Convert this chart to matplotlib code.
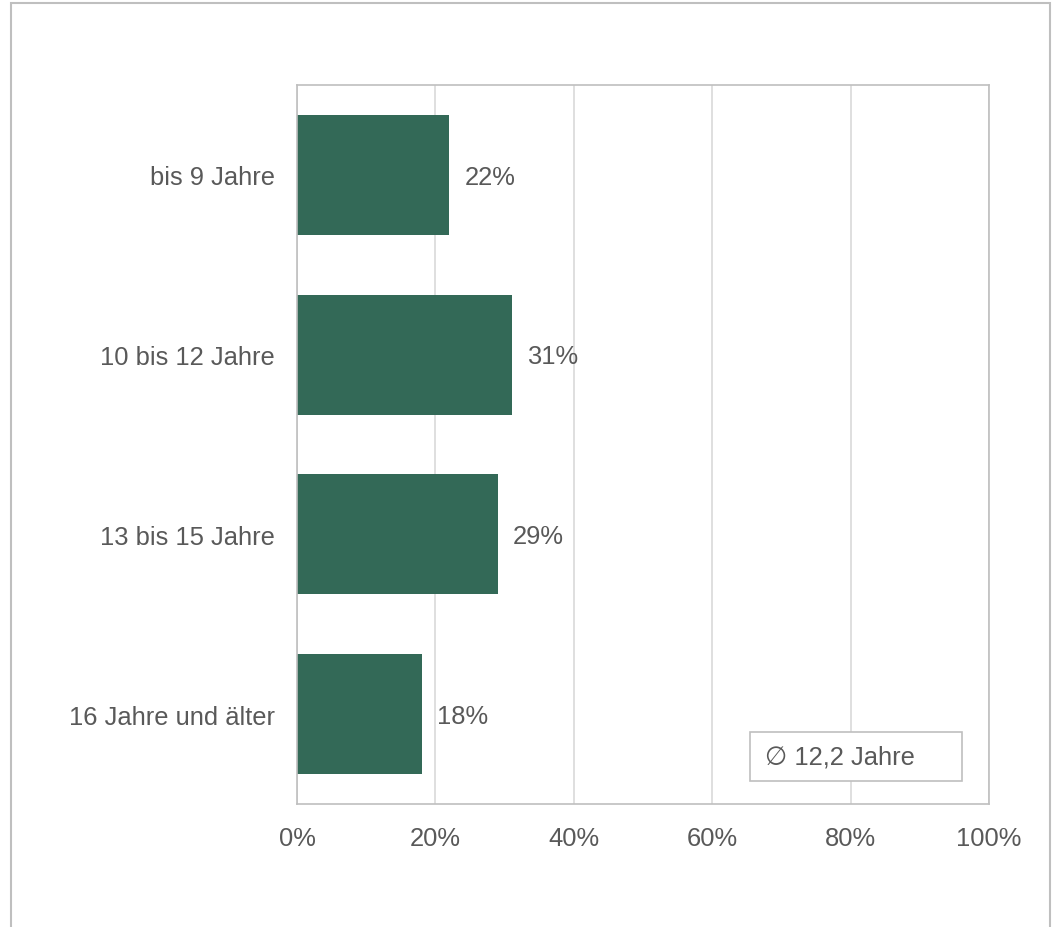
import matplotlib.pyplot as plt
from matplotlib.patches import Rectangle

plt.rcParams['font.family'] = ['Liberation Sans', 'DejaVu Sans']

categories = ["bis 9 Jahre", "10 bis 12 Jahre", "13 bis 15 Jahre", "16 Jahre und älter"]
shares = [22, 31, 29, 18]
xticks = [0, 20, 40, 60, 80, 100]
avg_label = "\u2205 12,2 Jahre"

bar_color = "#336957"
text_color = "#595959"
line_color = "#bfbfbf"
fs = 18.4

fig = plt.figure(figsize=(10.55, 9.28), dpi=100)
ax = fig.add_axes([297 / 1055, 1 - 805 / 928, 692 / 1055, 719 / 928])

ypos = range(len(categories))
ax.barh(ypos, shares, height=0.667, color=bar_color, zorder=2)
for y, v in zip(ypos, shares):
    ax.text(v + 2.2, y + 0.01, f"{v}%", va="center", ha="left", fontsize=fs, color=text_color)

ax.set_xlim(0, 100)
ax.set_ylim(len(categories) - 0.5, -0.5)
ax.set_yticks(list(ypos))
ax.set_yticklabels(categories, fontsize=fs, color=text_color)
ax.set_xticks(xticks)
ax.set_xticklabels([f"{t}%" for t in xticks], fontsize=fs, color=text_color)
ax.tick_params(axis="both", length=0)
ax.tick_params(axis="y", pad=16)
ax.tick_params(axis="x", pad=15.5)
ax.grid(axis="x", color="#d9d9d9", linewidth=1.2, zorder=0)
for s in ax.spines.values():
    s.set_color(line_color)
    s.set_linewidth(1.2)

# mean age box
ax.add_patch(Rectangle((0.655, 0.0316), 0.306, 0.068, transform=ax.transAxes,
                       facecolor="white", edgecolor=line_color, linewidth=1.2, zorder=3))
ax.text(0.677, 0.0657, avg_label, transform=ax.transAxes, va="center", ha="left",
        fontsize=fs, color=text_color, zorder=4)

# outer frame
fig.patches.append(Rectangle((11 / 1055, -0.01), 1039 / 1055, 1.01 - 3.5 / 928,
                             transform=fig.transFigure, fill=False,
                             edgecolor=line_color, linewidth=1.5))

fig.savefig("out.png", dpi=100)
